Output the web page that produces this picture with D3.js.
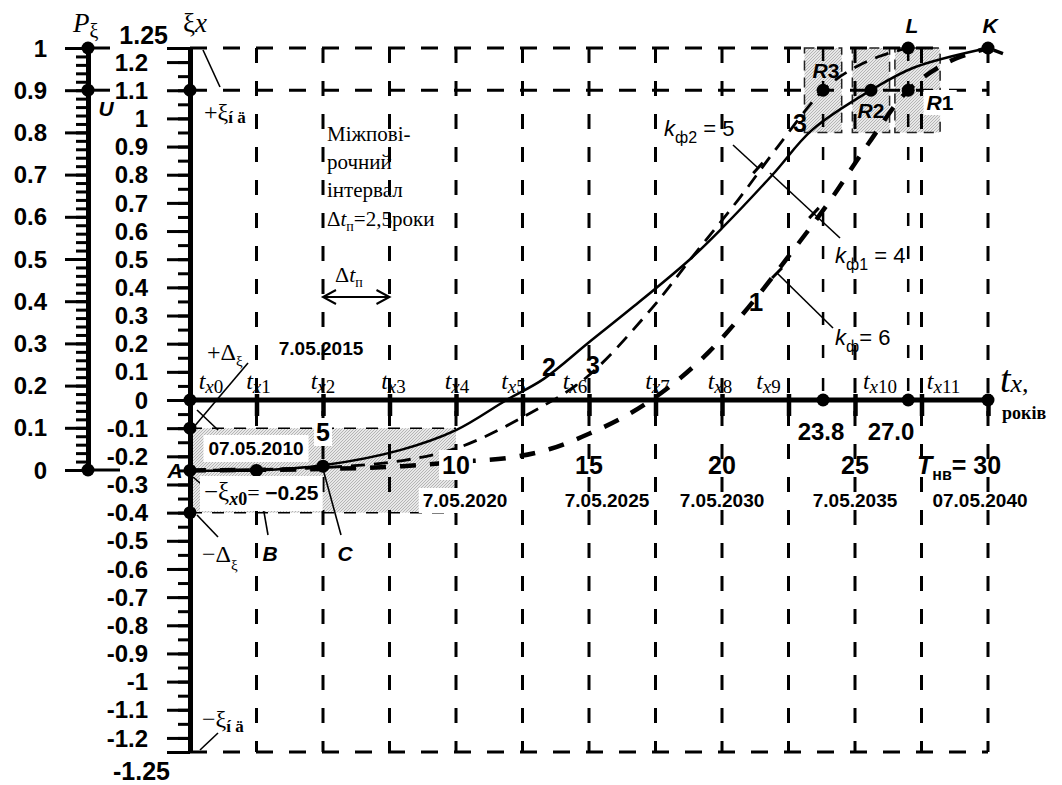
<!DOCTYPE html>
<html>
<head>
<meta charset="utf-8">
<script src="https://cdn.jsdelivr.net/npm/d3@7"></script>
<style>
  body { margin: 0; background: #fff; }
  svg text { font-family: "Liberation Sans", Arial, sans-serif; fill: #000; }
  svg text.serif, svg tspan.serif { font-family: "Liberation Serif", "Times New Roman", serif; }
  svg text.num { font-weight: 700; font-size: 24px; }
</style>
</head>
<body>
<svg id="chart" width="1062" height="785"></svg>
<script>
// Межповірочні інтервали (роки) і підписи
const gridYears = [2.5, 5, 7.5, 10, 12.5, 15, 17.5, 20, 22.5, 25, 27.5, 30];
const gridNames = ["0", "1", "2", "3", "4", "5", "6", "7", "8", "9", "10", "11"];
const yearTicks = [5, 10, 15, 20, 25];
const dateLabels = ["7.05.2020", "7.05.2025", "7.05.2030", "7.05.2035"];
const dateYears = [10, 15, 20, 25];

// Шкала ξx і шкала Pξ
const xiTicks = [1.2, 1.1, 1, 0.9, 0.8, 0.7, 0.6, 0.5, 0.4, 0.3, 0.2, 0.1, 0,
  -0.1, -0.2, -0.3, -0.4, -0.5, -0.6, -0.7, -0.8, -0.9, -1, -1.1, -1.2];
const pTicks = [1, 0.9, 0.8, 0.7, 0.6, 0.5, 0.4, 0.3, 0.2, 0.1, 0];

// Криві дрейфу (t, років; ξx)
const curve2T  = [0, 2.5, 5, 7.9, 10, 11.9, 13.3, 15, 16.65, 18.8, 20, 21.9, 23.4, 25.6, 27.2, 30];
const curve2Xi = [-0.25, -0.25, -0.232, -0.178, -0.107, 0, 0.075, 0.205, 0.33, 0.5, 0.61, 0.8, 0.96, 1.1, 1.18, 1.25];
const curve3T  = [0, 5, 8, 10.15, 12.8, 14.9, 17.4, 18.9, 20.6, 22.1, 23.8, 24.8, 25.9, 27];
const curve3Xi = [-0.25, -0.24, -0.215, -0.167, -0.046, 0.08, 0.33, 0.51, 0.71, 0.9, 1.1, 1.17, 1.22, 1.25];
const curve1T  = [0, 5, 8, 10, 12, 13.5, 15, 16.5, 18, 19.5, 21, 22.5, 24, 25.5, 27, 28.5, 30];
const curve1Xi = [-0.25, -0.245, -0.235, -0.22, -0.205, -0.175, -0.12, -0.05, 0.045, 0.17, 0.33, 0.51, 0.7, 0.91, 1.1, 1.2, 1.25];

// Зони допуску
const bandT = [0, 10];
const bandXi = [-0.4, -0.1];
const boxT0 = [23.1, 24.9, 26.5];
const boxT1 = [24.5, 26.3, 28.2];
const boxXi = [0.95, 1.25];

// Характерні точки
const ptNames = ["A", "B", "C", "R3", "R2", "R1", "L", "K"];
const ptT  = [0, 2.5, 5, 23.8, 25.6, 27, 27, 30];
const ptXi = [-0.25, -0.25, -0.235, 1.1, 1.1, 1.1, 1.25, 1.25];
const axisDotT = [0, 23.8, 27, 30];
const markT = [23.8, 27];
const markLabels = ["23.8", "27.0"];

const svg = d3.select("#chart");
const x = d3.scaleLinear().domain([0, 30]).range([190, 988]);
const y = d3.scaleLinear().domain([-1.25, 1.25]).range([752, 48]);
const p = d3.scaleLinear().domain([0, 1]).range([470, 48]);

// hatch pattern for the shaded zones
const pat = svg.append("defs").append("pattern")
  .attr("id", "hatch").attr("patternUnits", "userSpaceOnUse")
  .attr("width", 3).attr("height", 3);
pat.append("rect").attr("width", 3).attr("height", 3).attr("fill", "#e8e8e8");
pat.append("path").attr("d", "M0,3L3,0").attr("stroke", "#a8a8a8").attr("stroke-width", 0.8);

svg.append("rect")
  .attr("x", x(bandT[0])).attr("y", y(bandXi[1]))
  .attr("width", x(bandT[1]) - x(bandT[0])).attr("height", y(bandXi[0]) - y(bandXi[1]))
  .attr("fill", "url(#hatch)");

svg.selectAll(".box").data(boxT0).enter().append("rect")
  .attr("x", d => x(d)).attr("y", y(boxXi[1]))
  .attr("width", (d, i) => x(boxT1[i]) - x(d))
  .attr("height", y(boxXi[0]) - y(boxXi[1]))
  .attr("fill", "url(#hatch)")
  .attr("stroke", "#222").attr("stroke-width", 1.5).attr("stroke-dasharray", "10,7");

// dashed grid
const grid = svg.append("g").attr("stroke", "#000").attr("fill", "none");
grid.selectAll(".v").data(gridYears).enter().append("line")
  .attr("x1", d => x(d)).attr("x2", d => x(d))
  .attr("y1", y(1.25)).attr("y2", y(-1.25))
  .attr("stroke-width", 3).attr("stroke-dasharray", "15,18");
grid.selectAll(".m").data(markT).enter().append("line")
  .attr("x1", d => x(d)).attr("x2", d => x(d))
  .attr("y1", y(1.25)).attr("y2", y(0))
  .attr("stroke-width", 2.5).attr("stroke-dasharray", "13,20");
grid.selectAll(".h").data([1.25, 1.1, -1.25]).enter().append("line")
  .attr("x1", x(0)).attr("x2", x(30))
  .attr("y1", d => y(d)).attr("y2", d => y(d))
  .attr("stroke-width", 3).attr("stroke-dasharray", "17,16");
grid.selectAll(".b").data(bandXi).enter().append("line")
  .attr("x1", x(bandT[0])).attr("x2", x(bandT[1]))
  .attr("y1", d => y(d)).attr("y2", d => y(d))
  .attr("stroke-width", 1.5).attr("stroke-dasharray", "12,10");

// ξx axis (ticks from d3, labels drawn with the same scale)
const xiAxis = svg.append("g").attr("transform", `translate(${x(0)},0)`)
  .call(d3.axisLeft(y).tickValues(xiTicks.concat([1.25, -1.25])).tickSize(23).tickSizeOuter(0).tickFormat(""));
svg.append("g").attr("transform", `translate(${x(0)},0)`)
  .call(d3.axisLeft(y).tickValues(d3.range(-1.25, 1.26, 0.05)).tickSize(12).tickSizeOuter(0).tickFormat(""))
  .call(g => g.select(".domain").remove())
  .selectAll("line").attr("stroke-width", 3);
xiAxis.select(".domain").attr("stroke-width", 5);
xiAxis.selectAll(".tick line").attr("stroke-width", 3);
svg.selectAll(".xil").data(xiTicks).enter().append("text")
  .attr("class", "num").attr("x", 148).attr("y", d => y(d)).attr("dy", "0.36em")
  .attr("text-anchor", "end").text(d => String(+d.toFixed(2)));
svg.append("text").attr("class", "num").attr("x", 168).attr("y", y(1.25) - 4).attr("text-anchor", "end")
  .style("font-size", "25px").text("1.25");
svg.append("text").attr("class", "num").attr("x", 170).attr("y", y(-1.25) + 28).attr("text-anchor", "end")
  .style("font-size", "25px").text("-1.25");

// Pξ axis
const pX = 88;
const pAxis = svg.append("g").attr("transform", `translate(${pX},0)`)
  .call(d3.axisLeft(p).tickValues(pTicks).tickSize(23).tickSizeOuter(0).tickFormat(""));
svg.append("g").attr("transform", `translate(${pX},0)`)
  .call(d3.axisLeft(p).tickValues(d3.range(0, 1.001, 0.02)).tickSize(12).tickSizeOuter(0).tickFormat(""))
  .call(g => g.select(".domain").remove())
  .selectAll("line").attr("stroke-width", 3);
pAxis.select(".domain").attr("stroke-width", 5);
pAxis.selectAll(".tick line").attr("stroke-width", 3);
svg.selectAll(".pl").data(pTicks).enter().append("text")
  .attr("class", "num").attr("x", 47).attr("y", d => p(d)).attr("dy", "0.36em")
  .attr("text-anchor", "end").text(d => String(+d.toFixed(1)));
svg.selectAll(".pext").data([1, 0.9, 0]).enter().append("line")
  .attr("x1", pX).attr("x2", (d, i) => i === 2 ? pX + 32 : pX + 22)
  .attr("y1", d => p(d)).attr("y2", d => p(d))
  .attr("stroke", "#000").attr("stroke-width", 3);

// time axis
const tAxis = svg.append("g").attr("transform", `translate(0,${y(0) - 6})`)
  .call(d3.axisBottom(x).tickValues(gridYears).tickSize(22).tickSizeOuter(0).tickFormat(""));
tAxis.select(".domain").remove();
tAxis.selectAll(".tick line").attr("stroke-width", 4.5);
svg.append("line").attr("x1", x(0)).attr("x2", x(30)).attr("y1", y(0)).attr("y2", y(0))
  .attr("stroke", "#000").attr("stroke-width", 5);

// curves
const line = d3.line().x(d => x(d[0])).y(d => y(d[1])).curve(d3.curveCatmullRom.alpha(0.5));
svg.append("path").datum(curve1T.map((t, i) => [t, curve1Xi[i]])).attr("d", line)
  .attr("fill", "none").attr("stroke", "#000").attr("stroke-width", 4.5).attr("stroke-dasharray", "16,14");
svg.append("path").datum(curve3T.map((t, i) => [t, curve3Xi[i]])).attr("d", line)
  .attr("fill", "none").attr("stroke", "#000").attr("stroke-width", 2.8).attr("stroke-dasharray", "14,9");
svg.append("path").datum(curve2T.map((t, i) => [t, curve2Xi[i]])).attr("d", line)
  .attr("fill", "none").attr("stroke", "#000").attr("stroke-width", 2.5);
svg.append("path").datum([[30, 1.25], [30.7, 1.225]]).attr("d", line)
  .attr("fill", "none").attr("stroke", "#000").attr("stroke-width", 3.5).attr("stroke-dasharray", "2,4,10,20");

// leader lines
const leaders = [
  [203, 50, 220, 87], [193, 428, 248, 363], [197, 410, 218, 430], [193, 477, 208, 490],
  [197, 515, 218, 537], [200, 750, 218, 733], [257, 472, 268, 535], [323, 469, 341, 535],
  [733, 145, 758, 168], [770, 173, 840, 238], [777, 273, 833, 328]
];
svg.selectAll(".ld").data(leaders).enter().append("line")
  .attr("x1", d => d[0]).attr("y1", d => d[1]).attr("x2", d => d[2]).attr("y2", d => d[3])
  .attr("stroke", "#000").attr("stroke-width", 1.6);
// small perpendicular ticks where leaders meet curves
[[758, 168, 25, 23], [814, 213, 70, 65], [777, 273, 56, 55]].forEach(([cx, cy, dx, dy]) => {
  const L = Math.hypot(dx, dy), nx = -dy / L * 7, ny = dx / L * 7;
  svg.append("line").attr("x1", cx - nx).attr("y1", cy - ny).attr("x2", cx + nx).attr("y2", cy + ny)
    .attr("stroke", "#000").attr("stroke-width", 3);
});

// Δtп arrow
const ay = 297, a0 = x(5), a1 = x(7.5);
svg.append("path")
  .attr("d", `M${a0},${ay}L${a1},${ay}M${a0 + 13},${ay - 7}L${a0},${ay}L${a0 + 13},${ay + 7}M${a1 - 13},${ay - 7}L${a1},${ay}L${a1 - 13},${ay + 7}`)
  .attr("fill", "none").attr("stroke", "#000").attr("stroke-width", 2);

// dots
const dot = (cx, cy) => svg.append("circle").attr("cx", cx).attr("cy", cy).attr("r", 6.5).attr("fill", "#000");
ptT.forEach((t, i) => dot(x(t), y(ptXi[i])));
axisDotT.forEach(t => dot(x(t), y(0)));
[1.1, -0.1, -0.4].forEach(v => dot(x(0), y(v)));
[1, 0.9, 0].forEach(v => dot(pX, p(v)));

// text helpers
const bgLayer = svg.append("g");
const txtLayer = svg.append("g");
function rich(tx, ty, parts, anchor, bg) {
  const t = txtLayer.append("text").attr("x", tx).attr("y", ty).attr("text-anchor", anchor || "start");
  let shift = 0;
  parts.forEach(pt => {
    const s = t.append("tspan").text(pt.t).style("font-size", (pt.s || 22) + "px");
    if (pt.i) s.style("font-style", "italic");
    if (pt.b) s.style("font-weight", "bold");
    if (pt.f) s.attr("class", "serif");
    const d = (pt.dy || 0) - shift;
    if (d) s.attr("dy", d);
    shift = pt.dy || 0;
  });
  if (bg) {
    const bb = t.node().getBBox();
    bgLayer.append("rect").attr("x", bb.x - bg).attr("y", bb.y - bg + 2)
      .attr("width", bb.width + 2 * bg).attr("height", bb.height + 2 * bg - 4).attr("fill", "#fff");
  }
  return t;
}

// axis titles
rich(73, 32, [{ t: "P", s: 27, i: 1, f: 1 }, { t: "ξ", s: 20, f: 1, dy: 6 }]);
rich(183, 32, [{ t: "ξ", s: 27, f: 1 }, { t: "x", s: 27, i: 1, f: 1 }]);
rich(1000, 392, [{ t: "t", s: 38, i: 1, f: 1 }, { t: "x,", s: 26, i: 1, f: 1 }]);
rich(1002, 419, [{ t: "років", s: 18, b: 1, f: 1 }]);

// t_x labels
const labelShift = [21, 2, 0, 4, 1, -9, -14, 2, -2, -20, 25, 22];
gridNames.forEach((n, i) => {
  const gx = i === 0 ? x(0) : x(gridYears[i - 1]);
  rich(gx + labelShift[i], 389, [{ t: "t", s: 24, i: 1, f: 1 }, { t: "x", s: 19, i: 1, f: 1, dy: 4 }, { t: n, s: 19, f: 1, dy: 4 }], "middle");
});

// years below axis
yearTicks.forEach((v, i) => {
  if (v === 5) rich(x(v), 441, [{ t: "5", s: 25, b: 1 }], "middle", 2);
  else rich(x(v), 474, [{ t: String(v), s: 25, b: 1 }], "middle", i === 1 ? 3 : 0);
});
rich(917, 474, [{ t: "T", s: 25, b: 1, i: 1 }, { t: "нв", s: 16, b: 1, dy: 6 }, { t: "= 30", s: 25, b: 1 }]);
markT.forEach((t, i) => rich(i === 0 ? 821 : 891, 440, [{ t: markLabels[i], s: 24, b: 1 }], "middle"));

// dates
dateYears.forEach((v, i) => rich(x(v) + (i === 0 ? 9 : i === 1 ? 18 : 0), 507, [{ t: dateLabels[i], s: 19, b: 1 }], "middle", i === 0 ? 4 : 0));
rich(980, 507, [{ t: "07.05.2040", s: 19, b: 1 }], "middle");
rich(256, 455, [{ t: "07.05.2010", s: 19, b: 1 }], "middle", 5);
rich(321, 355, [{ t: "7.05.2015", s: 19, b: 1 }], "middle");

// annotations on the ξ axis side
rich(204, 120, [{ t: "+ξ", s: 24, f: 1 }, { t: "í ä", s: 17, f: 1, b: 1, dy: 3 }]);
rich(202, 727, [{ t: "−ξ", s: 24, f: 1 }, { t: "í ä", s: 17, f: 1, b: 1, dy: 5 }]);
rich(207, 360, [{ t: "+Δ", s: 24, f: 1 }, { t: "ξ", s: 15, f: 1, dy: 6 }]);
rich(202, 562, [{ t: "−Δ", s: 24, f: 1 }, { t: "ξ", s: 15, f: 1, dy: 8 }]);
rich(204, 500, [{ t: "−ξ", s: 25, f: 1 }, { t: "x", s: 18, i: 1, b: 1, f: 1, dy: 5 }, { t: "0", s: 18, b: 1, f: 1, dy: 5 },
  { t: "= ", s: 22, f: 1 }, { t: "−0.25", s: 21, b: 1 }], "start", 4);

// interval note
["Міжпові-", "рочний", "інтервал"].forEach((s, i) =>
  rich(327, 141 + i * 28, [{ t: s, s: 21, f: 1 }]));
rich(327, 226, [{ t: "Δ", s: 21, f: 1 }, { t: "t", s: 21, f: 1, i: 1 }, { t: "п", s: 14, f: 1, dy: 5 }, { t: "=2,5роки", s: 21, f: 1 }]);
rich(335, 282, [{ t: "Δ", s: 22, f: 1 }, { t: "t", s: 22, f: 1, i: 1 }, { t: "п", s: 14, f: 1, dy: 5 }]);

// point labels
rich(175, 478, [{ t: "A", s: 21, b: 1, i: 1 }], "middle");
rich(270, 561, [{ t: "B", s: 21, b: 1, i: 1 }], "middle");
rich(345, 561, [{ t: "C", s: 21, b: 1, i: 1 }], "middle");
rich(106, 116, [{ t: "U", s: 21, b: 1, i: 1 }], "middle");
rich(912, 33, [{ t: "L", s: 21, b: 1, i: 1 }], "middle");
rich(990, 33, [{ t: "K", s: 21, b: 1, i: 1 }], "middle");
rich(826, 78, [{ t: "R", s: 21, b: 1, i: 1 }, { t: "3", s: 21, b: 1 }], "middle");
rich(871, 118, [{ t: "R", s: 21, b: 1, i: 1 }, { t: "2", s: 21, b: 1 }], "middle");
rich(940, 110, [{ t: "R", s: 21, b: 1, i: 1 }, { t: "1", s: 21, b: 1 }], "middle", 3);

// curve numbers
rich(549, 376, [{ t: "2", s: 25, b: 1 }], "middle");
rich(593, 374, [{ t: "3", s: 25, b: 1 }], "middle");
rich(800, 132, [{ t: "3", s: 25, b: 1 }], "middle");
rich(756, 311, [{ t: "1", s: 26, b: 1 }], "middle");

// k labels
rich(664, 136, [{ t: "k", s: 22, i: 1 }, { t: "ф2", s: 16, dy: 7 }, { t: " = 5", s: 22 }]);
rich(835, 263, [{ t: "k", s: 22, i: 1 }, { t: "ф1", s: 16, dy: 7 }, { t: " = 4", s: 22 }]);
rich(835, 345, [{ t: "k", s: 22, i: 1 }, { t: "ф", s: 16, dy: 7 }, { t: "= 6", s: 22 }]);
</script>
</body>
</html>
